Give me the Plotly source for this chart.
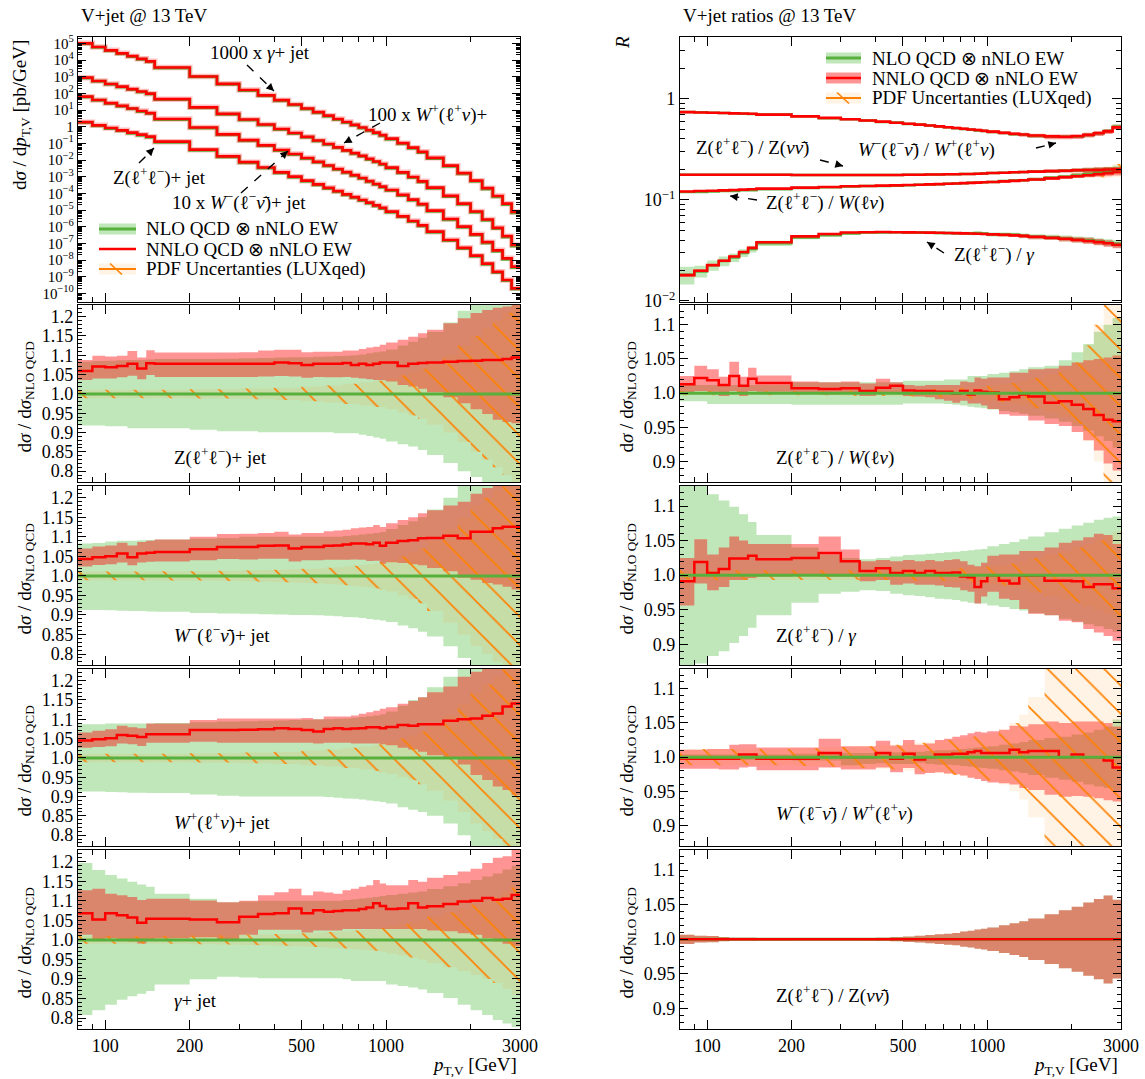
import math
import plotly.graph_objects as go

# ---------------- data ----------------
edges = [80, 90, 100, 110, 120, 130, 140, 150, 200, 250, 300, 350, 400, 450, 500, 550, 600, 650,
         700, 750, 800, 850, 900, 950, 1000, 1100, 1200, 1300, 1400, 1600, 1800, 2000, 2200, 2400,
         2600, 2800, 3000]

# top-left: log10 of NNLO QCD x nNLO EW dsigma/dpT [pb/GeV] (scaled curves)
lg_gamma_x1000 = [5.00, 4.78, 4.58, 4.40, 4.23, 4.07, 3.92, 3.55, 3.01, 2.57, 2.20, 1.88, 1.59, 1.33,
                  1.09, 0.87, 0.66, 0.46, 0.28, 0.11, -0.05, -0.21, -0.36, -0.51, -0.72, -0.99, -1.26,
                  -1.51, -1.87, -2.34, -2.79, -3.24, -3.69, -4.16, -4.62, -5.12]
lg_wp_x100 = [2.94, 2.74, 2.56, 2.40, 2.25, 2.11, 1.98, 1.65, 1.16, 0.77, 0.43, 0.13, -0.14, -0.38,
              -0.61, -0.83, -1.04, -1.24, -1.42, -1.59, -1.75, -1.93, -2.09, -2.24, -2.46, -2.74, -3.02,
              -3.28, -3.66, -4.15, -4.62, -5.09, -5.57, -6.07, -6.57, -7.1]
lg_wm_x10 = [1.80, 1.60, 1.41, 1.25, 1.09, 0.94, 0.81, 0.46, -0.05, -0.46, -0.81, -1.12, -1.40, -1.64,
             -1.88, -2.11, -2.33, -2.54, -2.73, -2.91, -3.08, -3.27, -3.44, -3.60, -3.80, -4.09, -4.38,
             -4.65, -5.04, -5.54, -6.0, -6.46, -6.93, -7.42, -7.9, -8.4]
lg_z = [0.27, 0.08, -0.08, -0.22, -0.36, -0.48, -0.6, -0.9, -1.38, -1.78, -2.13, -2.45, -2.74, -3.0,
        -3.24, -3.46, -3.67, -3.87, -4.06, -4.23, -4.40, -4.56, -4.72, -4.87, -5.1, -5.38, -5.66, -5.92,
        -6.3, -6.8, -7.27, -7.74, -8.22, -8.71, -9.2, -9.7]

# Z(ll)+jet ratio panel
z_nnlo = [1.059, 1.071, 1.069, 1.072, 1.078, 1.066, 1.079, 1.078, 1.078, 1.078, 1.078, 1.078, 1.081, 1.079,
          1.075, 1.078, 1.078, 1.078, 1.08, 1.075, 1.078, 1.075, 1.078, 1.081, 1.081, 1.072, 1.078, 1.08,
          1.081, 1.083, 1.085, 1.086, 1.088, 1.088, 1.09, 1.094]
z_nnlo_hi = [1.088, 1.099, 1.097, 1.099, 1.111, 1.094, 1.113, 1.107, 1.107, 1.107, 1.108, 1.112, 1.114, 1.114,
             1.108, 1.109, 1.109, 1.109, 1.112, 1.112, 1.116, 1.12, 1.122, 1.127, 1.133, 1.14, 1.148, 1.157,
             1.166, 1.183, 1.196, 1.209, 1.217, 1.223, 1.226, 1.232]
z_nnlo_lo = [1.036, 1.04, 1.04, 1.043, 1.047, 1.038, 1.049, 1.044, 1.044, 1.044, 1.044, 1.045, 1.046, 1.045,
             1.042, 1.044, 1.043, 1.043, 1.044, 1.042, 1.04, 1.038, 1.036, 1.035, 1.032, 1.023, 1.019, 1.013,
             1.004, 0.991, 0.976, 0.96, 0.948, 0.933, 0.927, 0.924]
z_nlo_hi = [1.083, 1.085, 1.086, 1.087, 1.088, 1.088, 1.089, 1.09, 1.09, 1.091, 1.092, 1.093, 1.094, 1.095,
            1.095, 1.096, 1.097, 1.098, 1.099, 1.1, 1.102, 1.105, 1.108, 1.11, 1.115, 1.125, 1.135, 1.145,
            1.16, 1.185, 1.215, 1.24, 1.26, 1.28, 1.3, 1.32]
z_nlo_lo = [0.918, 0.918, 0.916, 0.916, 0.911, 0.911, 0.911, 0.911, 0.907, 0.903, 0.903, 0.901, 0.901, 0.901,
            0.901, 0.901, 0.901, 0.898, 0.898, 0.898, 0.894, 0.891, 0.887, 0.884, 0.877, 0.87, 0.864, 0.855,
            0.842, 0.821, 0.8, 0.785, 0.77, 0.755, 0.74, 0.72]
z_pdf = [0.011, 0.011, 0.011, 0.011, 0.011, 0.011, 0.011, 0.011, 0.012, 0.012, 0.014, 0.014, 0.016, 0.016,
         0.019, 0.019, 0.022, 0.022, 0.026, 0.026, 0.03, 0.03, 0.034, 0.034, 0.04, 0.048, 0.056, 0.065,
         0.08, 0.1, 0.125, 0.15, 0.17, 0.19, 0.21, 0.23]

# W-(l- nubar)+jet ratio panel
wm_nnlo = [1.043, 1.048, 1.05, 1.057, 1.048, 1.057, 1.059, 1.061, 1.068, 1.074, 1.074, 1.077, 1.078, 1.07,
           1.074, 1.074, 1.077, 1.078, 1.08, 1.083, 1.083, 1.081, 1.085, 1.077, 1.085, 1.089, 1.091, 1.096,
           1.097, 1.103, 1.096, 1.113, 1.113, 1.122, 1.126, 1.126]
wm_nnlo_hi = [1.07, 1.075, 1.078, 1.085, 1.078, 1.087, 1.09, 1.093, 1.1, 1.107, 1.108, 1.11, 1.113, 1.106,
              1.11, 1.11, 1.114, 1.116, 1.118, 1.122, 1.124, 1.125, 1.13, 1.125, 1.135, 1.143, 1.15, 1.16,
              1.168, 1.18, 1.19, 1.21, 1.225, 1.24, 1.25, 1.26]
wm_nnlo_lo = [1.024, 1.028, 1.03, 1.034, 1.027, 1.034, 1.036, 1.037, 1.04, 1.043, 1.042, 1.044, 1.044, 1.037,
              1.04, 1.04, 1.041, 1.041, 1.041, 1.042, 1.041, 1.038, 1.039, 1.031, 1.035, 1.033, 1.03, 1.027,
              1.02, 1.012, 0.995, 0.99, 0.982, 0.978, 0.972, 0.965]
wm_nlo_hi = [1.083, 1.084, 1.088, 1.09, 1.09, 1.091, 1.092, 1.093, 1.095, 1.097, 1.1, 1.1, 1.1, 1.1,
             1.1, 1.1, 1.1, 1.1, 1.102, 1.104, 1.106, 1.108, 1.11, 1.112, 1.12, 1.13, 1.14, 1.15,
             1.17, 1.2, 1.23, 1.26, 1.28, 1.3, 1.32, 1.34]
wm_nlo_lo = [0.913, 0.913, 0.912, 0.911, 0.91, 0.91, 0.909, 0.908, 0.905, 0.904, 0.903, 0.902, 0.901, 0.9,
             0.9, 0.899, 0.898, 0.897, 0.895, 0.894, 0.892, 0.89, 0.888, 0.886, 0.882, 0.873, 0.866, 0.857,
             0.845, 0.82, 0.79, 0.76, 0.74, 0.72, 0.7, 0.68]
wm_pdf = [0.011, 0.011, 0.011, 0.011, 0.011, 0.011, 0.011, 0.012, 0.012, 0.013, 0.014, 0.015, 0.016, 0.017,
          0.018, 0.019, 0.021, 0.022, 0.024, 0.026, 0.028, 0.03, 0.032, 0.035, 0.04, 0.05, 0.06, 0.07,
          0.09, 0.12, 0.15, 0.18, 0.2, 0.22, 0.24, 0.26]

# W+(l+ nu)+jet ratio panel
wp_nnlo = [1.045, 1.048, 1.051, 1.059, 1.057, 1.054, 1.061, 1.061, 1.072, 1.072, 1.073, 1.074, 1.077, 1.075,
           1.072, 1.068, 1.075, 1.077, 1.075, 1.076, 1.077, 1.079, 1.079, 1.077, 1.08, 1.085, 1.083, 1.087,
           1.087, 1.096, 1.1, 1.102, 1.109, 1.115, 1.133, 1.141]
wp_nnlo_hi = [1.066, 1.07, 1.074, 1.083, 1.079, 1.077, 1.089, 1.089, 1.098, 1.102, 1.102, 1.102, 1.102, 1.102,
              1.103, 1.1, 1.107, 1.107, 1.107, 1.11, 1.114, 1.118, 1.122, 1.127, 1.131, 1.14, 1.147, 1.157,
              1.17, 1.185, 1.21, 1.223, 1.24, 1.25, 1.26, 1.27]
wp_nnlo_lo = [1.026, 1.028, 1.03, 1.037, 1.035, 1.031, 1.039, 1.039, 1.042, 1.039, 1.039, 1.039, 1.039, 1.039,
              1.039, 1.037, 1.039, 1.039, 1.039, 1.037, 1.037, 1.037, 1.037, 1.035, 1.033, 1.026, 1.022, 1.016,
              1.007, 1.0, 0.983, 0.956, 0.943, 0.926, 0.917, 0.904]
wp_nlo_hi = [1.087, 1.087, 1.089, 1.089, 1.089, 1.089, 1.089, 1.09, 1.092, 1.094, 1.095, 1.096, 1.097, 1.098,
             1.099, 1.1, 1.1, 1.101, 1.102, 1.104, 1.106, 1.108, 1.11, 1.113, 1.12, 1.135, 1.15, 1.157,
             1.183, 1.21, 1.24, 1.27, 1.29, 1.31, 1.33, 1.35]
wp_nlo_lo = [0.913, 0.913, 0.912, 0.911, 0.91, 0.91, 0.909, 0.909, 0.905, 0.902, 0.9, 0.9, 0.9, 0.9,
             0.9, 0.9, 0.899, 0.897, 0.895, 0.894, 0.892, 0.89, 0.888, 0.886, 0.882, 0.872, 0.866, 0.86,
             0.85, 0.83, 0.8, 0.77, 0.75, 0.73, 0.71, 0.69]
wp_pdf = [0.011, 0.011, 0.011, 0.011, 0.011, 0.011, 0.011, 0.011, 0.012, 0.012, 0.014, 0.014, 0.016, 0.016,
          0.019, 0.019, 0.022, 0.022, 0.026, 0.026, 0.03, 0.03, 0.034, 0.037, 0.042, 0.05, 0.058, 0.068,
          0.085, 0.11, 0.14, 0.17, 0.19, 0.21, 0.23, 0.25]

# gamma+jet ratio panel
g_nnlo = [1.068, 1.052, 1.068, 1.063, 1.057, 1.044, 1.054, 1.054, 1.052, 1.045, 1.059, 1.066, 1.068, 1.08,
          1.068, 1.076, 1.072, 1.074, 1.076, 1.076, 1.079, 1.083, 1.094, 1.087, 1.079, 1.08, 1.094, 1.083,
          1.086, 1.092, 1.098, 1.1, 1.107, 1.103, 1.105, 1.115]
g_nnlo_hi = [1.127, 1.131, 1.118, 1.114, 1.11, 1.102, 1.105, 1.105, 1.101, 1.096, 1.1, 1.114, 1.122, 1.131,
             1.114, 1.124, 1.121, 1.118, 1.127, 1.131, 1.136, 1.14, 1.153, 1.144, 1.14, 1.14, 1.153, 1.149,
             1.159, 1.166, 1.175, 1.182, 1.197, 1.21, 1.214, 1.232]
g_nnlo_lo = [1.013, 1.0, 1.004, 1.0, 0.996, 0.991, 1.002, 1.004, 1.007, 1.002, 1.013, 1.026, 1.026, 1.026,
             1.019, 1.024, 1.024, 1.024, 1.028, 1.028, 1.028, 1.028, 1.028, 1.028, 1.028, 1.028, 1.028, 1.028,
             1.024, 1.022, 1.017, 1.013, 1.004, 0.996, 0.99, 0.984]
g_nlo_hi = [1.197, 1.179, 1.166, 1.157, 1.149, 1.142, 1.136, 1.118, 1.105, 1.096, 1.098, 1.1, 1.1, 1.1,
            1.1, 1.1, 1.1, 1.1, 1.102, 1.104, 1.106, 1.108, 1.11, 1.112, 1.115, 1.118, 1.121, 1.124,
            1.13, 1.137, 1.145, 1.153, 1.162, 1.17, 1.18, 1.19]
g_nlo_lo = [0.808, 0.82, 0.834, 0.847, 0.856, 0.862, 0.869, 0.886, 0.899, 0.906, 0.904, 0.902, 0.902, 0.902,
            0.902, 0.902, 0.902, 0.902, 0.899, 0.895, 0.895, 0.895, 0.895, 0.895, 0.886, 0.882, 0.878, 0.873,
            0.864, 0.851, 0.834, 0.82, 0.808, 0.795, 0.786, 0.777]
g_pdf = [0.01, 0.01, 0.01, 0.01, 0.01, 0.01, 0.01, 0.01, 0.011, 0.012, 0.013, 0.014, 0.015, 0.016,
         0.017, 0.018, 0.02, 0.021, 0.022, 0.024, 0.025, 0.027, 0.028, 0.03, 0.035, 0.04, 0.045, 0.05,
         0.06, 0.07, 0.08, 0.09, 0.1, 0.11, 0.125, 0.14]

# top-right: NNLO ratios R
R_wm_wp = [0.735, 0.73, 0.725, 0.72, 0.715, 0.712, 0.708, 0.695, 0.668, 0.645, 0.625, 0.608, 0.592, 0.578,
           0.565, 0.553, 0.542, 0.532, 0.522, 0.513, 0.504, 0.496, 0.489, 0.482, 0.472, 0.46, 0.45, 0.442,
           0.432, 0.424, 0.42, 0.425, 0.438, 0.455, 0.475, 0.52]
R_z_znn = [0.177, 0.177, 0.177, 0.177, 0.177, 0.177, 0.177, 0.177, 0.176, 0.176, 0.176, 0.176, 0.176, 0.176,
           0.177, 0.177, 0.178, 0.178, 0.179, 0.179, 0.18, 0.18, 0.181, 0.182, 0.184, 0.185, 0.187, 0.188,
           0.19, 0.192, 0.194, 0.196, 0.197, 0.198, 0.199, 0.2]
R_z_w = [0.121, 0.122, 0.123, 0.124, 0.125, 0.126, 0.127, 0.129, 0.132, 0.134, 0.136, 0.137, 0.138, 0.139,
         0.14, 0.141, 0.142, 0.143, 0.144, 0.145, 0.146, 0.147, 0.148, 0.149, 0.15, 0.152, 0.154, 0.156,
         0.159, 0.163, 0.167, 0.171, 0.175, 0.179, 0.183, 0.188]
R_z_g = [0.018, 0.0199, 0.0226, 0.025, 0.0275, 0.0305, 0.0335, 0.038, 0.0435, 0.046, 0.0475, 0.0478, 0.048,
         0.0478, 0.0477, 0.0476, 0.0474, 0.0472, 0.047, 0.0468, 0.0466, 0.0464, 0.0462, 0.046, 0.0455, 0.045,
         0.0445, 0.044, 0.0432, 0.0422, 0.0412, 0.0402, 0.0392, 0.0382, 0.0372, 0.036]

# Z/W ratio panel
zw_nnlo = [1.013, 1.022, 1.019, 1.012, 1.025, 1.011, 1.021, 1.015, 1.007, 1.006, 1.007, 1.003, 1.008, 1.011,
           1.004, 1.003, 1.003, 1.002, 1.002, 0.999, 1.003, 0.998, 1.004, 1.002, 1.001, 0.991, 0.994, 0.998,
           0.995, 0.986, 0.988, 0.983, 0.977, 0.968, 0.961, 0.959]
zw_nnlo_hi = [1.025, 1.04, 1.035, 1.024, 1.046, 1.024, 1.037, 1.026, 1.017, 1.016, 1.017, 1.014, 1.021, 1.016,
              1.012, 1.011, 1.012, 1.012, 1.012, 1.012, 1.017, 1.016, 1.023, 1.021, 1.023, 1.023, 1.03, 1.03,
              1.035, 1.036, 1.04, 1.045, 1.048, 1.05, 1.052, 1.055]
zw_nnlo_lo = [0.999, 1.003, 1.002, 0.996, 1.003, 0.996, 1.003, 1.002, 0.999, 0.998, 0.999, 0.996, 0.999, 0.999,
              0.996, 0.995, 0.994, 0.991, 0.989, 0.986, 0.989, 0.985, 0.985, 0.982, 0.977, 0.969, 0.967, 0.967,
              0.96, 0.955, 0.952, 0.943, 0.931, 0.916, 0.897, 0.887]
zw_nlo_hi = [1.012, 1.012, 1.012, 1.012, 1.012, 1.012, 1.012, 1.012, 1.016, 1.016, 1.016, 1.016, 1.016, 1.016,
             1.018, 1.018, 1.018, 1.018, 1.02, 1.02, 1.02, 1.025, 1.025, 1.025, 1.028, 1.03, 1.032, 1.035,
             1.038, 1.04, 1.048, 1.06, 1.072, 1.09, 1.1, 1.11]
zw_nlo_lo = [0.988, 0.988, 0.984, 0.984, 0.984, 0.984, 0.984, 0.984, 0.983, 0.983, 0.983, 0.983, 0.983, 0.983,
             0.985, 0.985, 0.985, 0.985, 0.984, 0.983, 0.982, 0.98, 0.979, 0.978, 0.976, 0.974, 0.972, 0.97,
             0.967, 0.963, 0.958, 0.952, 0.945, 0.937, 0.93, 0.92]
zw_pdf = [0.003, 0.003, 0.003, 0.003, 0.003, 0.003, 0.003, 0.003, 0.003, 0.003, 0.004, 0.004, 0.004, 0.005,
          0.005, 0.005, 0.006, 0.006, 0.007, 0.007, 0.008, 0.008, 0.009, 0.01, 0.011, 0.013, 0.015, 0.018,
          0.022, 0.028, 0.035, 0.045, 0.07, 0.1, 0.13, 0.15]

# Z/gamma ratio panel
zg_nnlo = [0.991, 1.019, 1.003, 1.009, 1.024, 1.024, 1.028, 1.023, 1.025, 1.032, 1.02, 1.006, 1.01, 1.003,
           1.006, 1.003, 1.006, 1.003, 1.003, 1.004, 0.998, 0.997, 0.983, 0.991, 1.0, 0.992, 0.988, 0.999,
           0.999, 0.992, 0.992, 0.991, 0.983, 0.987, 0.987, 0.981]
zg_nnlo_hi = [1.025, 1.052, 1.03, 1.04, 1.056, 1.05, 1.045, 1.045, 1.045, 1.056, 1.037, 1.02, 1.022, 1.02,
              1.022, 1.02, 1.022, 1.02, 1.022, 1.023, 1.02, 1.015, 1.013, 1.018, 1.028, 1.03, 1.03, 1.035,
              1.035, 1.04, 1.047, 1.05, 1.055, 1.06, 1.058, 1.045]
zg_nnlo_lo = [0.956, 0.988, 0.978, 0.983, 0.993, 0.993, 0.996, 0.998, 1.0, 0.998, 0.998, 0.991, 0.993, 0.986,
              0.988, 0.986, 0.986, 0.985, 0.983, 0.982, 0.978, 0.976, 0.959, 0.969, 0.976, 0.966, 0.964, 0.951,
              0.944, 0.942, 0.934, 0.932, 0.922, 0.917, 0.912, 0.905]
zg_nlo_hi = [1.2, 1.14, 1.117, 1.108, 1.099, 1.088, 1.077, 1.058, 1.04, 1.03, 1.025, 1.023, 1.025, 1.027,
             1.029, 1.03, 1.031, 1.032, 1.033, 1.034, 1.035, 1.036, 1.037, 1.038, 1.042, 1.045, 1.048, 1.052,
             1.056, 1.062, 1.067, 1.072, 1.076, 1.08, 1.083, 1.085]
zg_nlo_lo = [0.8, 0.872, 0.883, 0.89, 0.902, 0.912, 0.924, 0.942, 0.96, 0.973, 0.976, 0.978, 0.977, 0.973,
             0.971, 0.97, 0.968, 0.966, 0.965, 0.964, 0.962, 0.96, 0.959, 0.959, 0.956, 0.954, 0.951, 0.949,
             0.945, 0.942, 0.937, 0.933, 0.929, 0.926, 0.922, 0.918]
zg_pdf = [0.007, 0.007, 0.007, 0.007, 0.007, 0.007, 0.007, 0.007, 0.007, 0.007, 0.007, 0.007, 0.007, 0.008,
          0.008, 0.008, 0.008, 0.009, 0.009, 0.01, 0.01, 0.011, 0.011, 0.012, 0.013, 0.015, 0.017, 0.02,
          0.025, 0.03, 0.035, 0.04, 0.045, 0.05, 0.056, 0.063]

# W-/W+ ratio panel
wr_nnlo = [0.9975, 0.9975, 0.9975, 0.9975, 0.9975, 1.004, 1.004, 0.9975, 0.9975, 1.006, 1.0, 1.0, 1.006, 0.9975,
           1.005, 0.9966, 1.0, 1.004, 1.004, 1.005, 1.005, 1.007, 1.009, 1.006, 1.006, 1.006, 1.011, 1.007,
           1.009, 1.009, 1.0, 1.004, 1.0, 1.0, 0.995, 0.985]
wr_nnlo_hi = [1.011, 1.011, 1.012, 1.012, 1.018, 1.019, 1.019, 1.014, 1.014, 1.027, 1.016, 1.016, 1.024, 1.017,
              1.025, 1.018, 1.02, 1.025, 1.027, 1.03, 1.032, 1.035, 1.037, 1.036, 1.038, 1.04, 1.046, 1.045,
              1.048, 1.052, 1.05, 1.052, 1.052, 1.052, 1.05, 1.045]
wr_nnlo_lo = [0.983, 0.983, 0.983, 0.982, 0.982, 0.985, 0.986, 0.981, 0.981, 0.985, 0.982, 0.982, 0.985, 0.978,
              0.984, 0.975, 0.977, 0.978, 0.976, 0.975, 0.973, 0.97, 0.968, 0.965, 0.963, 0.962, 0.96, 0.955,
              0.952, 0.945, 0.942, 0.943, 0.942, 0.94, 0.937, 0.935]
wr_nlo_hi = [1.004, 1.004, 1.004, 1.004, 1.004, 1.004, 1.004, 1.004, 1.005, 1.005, 1.006, 1.006, 1.007, 1.007,
             1.008, 1.008, 1.009, 1.01, 1.01, 1.011, 1.012, 1.013, 1.014, 1.015, 1.016, 1.018, 1.02, 1.022,
             1.025, 1.028, 1.03, 1.033, 1.036, 1.04, 1.045, 1.055]
wr_nlo_lo = [0.996, 0.996, 0.996, 0.996, 0.996, 0.996, 0.996, 0.996, 0.995, 0.995, 0.988, 0.99, 0.991, 0.99,
             0.99, 0.992, 0.99, 0.989, 0.989, 0.988, 0.987, 0.986, 0.985, 0.984, 0.983, 0.981, 0.979, 0.977,
             0.974, 0.97, 0.967, 0.964, 0.96, 0.957, 0.955, 0.95]
wr_pdf = [0.012, 0.012, 0.012, 0.012, 0.012, 0.012, 0.012, 0.012, 0.013, 0.014, 0.015, 0.016, 0.017, 0.018,
          0.02, 0.021, 0.022, 0.023, 0.025, 0.026, 0.028, 0.03, 0.031, 0.033, 0.034, 0.04, 0.05, 0.062,
          0.088, 0.13, 0.18, 0.25, 0.25, 0.25, 0.25, 0.25]

# Z(ll)/Z(nunu) ratio panel
zn_nnlo = [1.0, 1.0, 1.0, 1.0, 1.0, 1.0, 1.0, 1.0, 1.0, 1.0, 1.0, 1.0, 1.0, 1.0, 1.0, 1.0, 1.0, 1.0,
           1.0, 1.0, 1.0, 1.0, 1.0, 1.0, 1.0, 1.0, 1.0, 1.0, 1.0, 1.0, 1.0, 1.0, 1.0, 1.0, 1.0, 1.0]
zn_nnlo_hi = [1.0065, 1.005, 1.0045, 1.003, 1.002, 1.002, 1.002, 1.0015, 1.001, 1.001, 1.001, 1.0015, 1.002,
              1.003, 1.004, 1.005, 1.006, 1.007, 1.008, 1.009, 1.011, 1.012, 1.014, 1.015, 1.017, 1.02, 1.023,
              1.026, 1.03, 1.036, 1.042, 1.047, 1.053, 1.058, 1.063, 1.057]
zn_nnlo_lo = [0.993, 0.995, 0.9955, 0.997, 0.998, 0.998, 0.998, 0.9985, 0.999, 0.999, 0.999, 0.9985, 0.998,
              0.997, 0.996, 0.995, 0.994, 0.993, 0.992, 0.991, 0.989, 0.988, 0.986, 0.985, 0.983, 0.98, 0.977,
              0.974, 0.97, 0.964, 0.958, 0.953, 0.947, 0.942, 0.936, 0.943]
zn_nlo_hi = zn_nnlo_hi
zn_nlo_lo = zn_nnlo_lo

x_tick_vals = [100, 200, 500, 1000, 3000]
x_tick_text = ["100", "200", "500", "1000", "3000"]

# ---------------- style ----------------
W, H = 1145, 1079
FONT = "Liberation Serif"
GREEN_BAND = "rgba(60,180,40,0.32)"
RED_BAND = "rgba(255,0,0,0.42)"
GREEN_LINE = "#58b03c"
RED_LINE = "#ff0000"
ORANGE = "#ff8000"
PDF_BG = "rgba(255,140,0,0.10)"
PATTERN = dict(shape="\\", fgcolor=ORANGE, fgopacity=1, bgcolor=PDF_BG, size=20, solidity=0.08)

COLS = [(78, 520), (680, 1121)]
ROWS = [(37, 302), (305, 482), (486, 665), (669, 846), (850, 1029)]


def PX(x):
    return x / W


def PY(y):
    return 1 - y / H


def an(n, kind):
    return kind if n == 1 else f"{kind}{n}"


def step(v):
    return list(v) + [v[-1]]


fig = go.Figure()


def band(n, lo, hi, color, pattern=None):
    xa, ya = an(n, "x"), an(n, "y")
    fig.add_trace(go.Scatter(x=edges, y=step(lo), xaxis=xa, yaxis=ya, mode="lines",
                             line=dict(width=0, shape="hv"), hoverinfo="skip", showlegend=False))
    kw = dict(fill="tonexty", fillcolor=color)
    if pattern is not None:
        kw["fillpattern"] = pattern
    fig.add_trace(go.Scatter(x=edges, y=step(hi), xaxis=xa, yaxis=ya, mode="lines",
                             line=dict(width=0, shape="hv"), hoverinfo="skip", showlegend=False, **kw))


def line(n, vals, color, width):
    fig.add_trace(go.Scatter(x=edges, y=step(vals), xaxis=an(n, "x"), yaxis=an(n, "y"), mode="lines",
                             line=dict(color=color, width=width, shape="hv"), hoverinfo="skip",
                             showlegend=False))


def ratio_panel(n, nnlo, nnlo_lo, nnlo_hi, nlo_lo, nlo_hi, pdf, red_on_top=True):
    band(n, nlo_lo, nlo_hi, GREEN_BAND)
    band(n, nnlo_lo, nnlo_hi, RED_BAND)
    if pdf is not None:
        band(n, [1 - w for w in pdf], [1 + w for w in pdf], PDF_BG, PATTERN)
    ones = [1.0 for _ in nnlo]
    if red_on_top:
        line(n, ones, GREEN_LINE, 3)
        line(n, nnlo, RED_LINE, 2.5)
    else:
        line(n, nnlo, RED_LINE, 2.5)
        line(n, ones, GREEN_LINE, 3)


# ---- top-left cross sections ----
for lg, k in [(lg_gamma_x1000, g_nnlo), (lg_wp_x100, wp_nnlo), (lg_wm_x10, wm_nnlo), (lg_z, z_nnlo)]:
    nnlo_vals = [10 ** v for v in lg]
    nlo_vals = [a / r for a, r in zip(nnlo_vals, k)]
    line(1, nnlo_vals, "rgba(255,0,0,0.25)", 5.5)
    line(1, nlo_vals, GREEN_LINE, 3)
    line(1, nnlo_vals, RED_LINE, 2.6)

# ---- left ratio panels ----
ratio_panel(2, z_nnlo, z_nnlo_lo, z_nnlo_hi, z_nlo_lo, z_nlo_hi, z_pdf)
ratio_panel(3, wm_nnlo, wm_nnlo_lo, wm_nnlo_hi, wm_nlo_lo, wm_nlo_hi, wm_pdf)
ratio_panel(4, wp_nnlo, wp_nnlo_lo, wp_nnlo_hi, wp_nlo_lo, wp_nlo_hi, wp_pdf)
ratio_panel(5, g_nnlo, g_nnlo_lo, g_nnlo_hi, g_nlo_lo, g_nlo_hi, g_pdf)

# ---- top-right ratios ----
top_right = [
    (R_z_g, zg_nnlo, zg_nnlo_lo, zg_nnlo_hi, zg_nlo_lo, zg_nlo_hi, None),
    (R_z_w, zw_nnlo, zw_nnlo_lo, zw_nnlo_hi, zw_nlo_lo, zw_nlo_hi, zw_pdf),
    (R_z_znn, zn_nnlo, zn_nnlo_lo, zn_nnlo_hi, zn_nlo_lo, zn_nlo_hi, None),
    (R_wm_wp, wr_nnlo, wr_nnlo_lo, wr_nnlo_hi, wr_nlo_lo, wr_nlo_hi, None),
]
for R, k, klo, khi, glo, ghi, pdf in top_right:
    nlo_c = [a / b for a, b in zip(R, k)]
    band(6, [c * g for c, g in zip(nlo_c, glo)], [c * g for c, g in zip(nlo_c, ghi)], GREEN_BAND)
    band(6, [c * g for c, g in zip(nlo_c, klo)], [c * g for c, g in zip(nlo_c, khi)], RED_BAND)
    if pdf is not None:
        band(6, [c * (1 - w) for c, w in zip(nlo_c, pdf)], [c * (1 + w) for c, w in zip(nlo_c, pdf)],
             PDF_BG, PATTERN)
    line(6, nlo_c, GREEN_LINE, 2.5)
    line(6, R, RED_LINE, 2.6)

# ---- right ratio panels ----
ratio_panel(7, zw_nnlo, zw_nnlo_lo, zw_nnlo_hi, zw_nlo_lo, zw_nlo_hi, zw_pdf, red_on_top=False)
ratio_panel(8, zg_nnlo, zg_nnlo_lo, zg_nnlo_hi, zg_nlo_lo, zg_nlo_hi, zg_pdf, red_on_top=False)
ratio_panel(9, wr_nnlo, wr_nnlo_lo, wr_nnlo_hi, wr_nlo_lo, wr_nlo_hi, wr_pdf, red_on_top=False)
ratio_panel(10, zn_nnlo, zn_nnlo_lo, zn_nnlo_hi, zn_nlo_lo, zn_nlo_hi, None, red_on_top=True)

# ---------------- axes ----------------
layout = dict(width=W, height=H, margin=dict(l=0, r=0, t=0, b=0), paper_bgcolor="white",
              plot_bgcolor="white", showlegend=False, font=dict(family=FONT, size=18, color="black"))

tickfont = dict(family=FONT, size=18, color="black")
common = dict(ticks="inside", tickcolor="black", tickwidth=1, mirror="allticks", showline=True,
              linecolor="black", linewidth=1.3, showgrid=False, zeroline=False, automargin=False,
              tickfont=tickfont)

sup_minus = "\u2212"
decade_vals = [10.0 ** e for e in range(-10, 6)]
decade_text = ["1" if e == 0 else f"10<sup>{e if e > 0 else sup_minus + str(-e)}</sup>"
               for e in range(-10, 6)]
decade_minor = [m * 10.0 ** e for e in range(-11, 6) for m in range(2, 10)]
r_vals = [0.01, 0.1, 1.0]
r_text = [f"10<sup>{sup_minus}2</sup>", f"10<sup>{sup_minus}1</sup>", "1"]
r_minor = [m * 10.0 ** e for e in range(-3, 1) for m in range(2, 10)]

left_ratio_vals = [0.8, 0.85, 0.9, 0.95, 1.0, 1.05, 1.1, 1.15, 1.2]
left_ratio_text = ["0.8", "0.85", "0.9", "0.95", "1.0", "1.05", "1.1", "1.15", "1.2"]
right_ratio_vals = [0.9, 0.95, 1.0, 1.05, 1.1]
right_ratio_text = ["0.9", "0.95", "1.0", "1.05", "1.1"]
left_minor = [round(0.77 + 0.01 * i, 2) for i in range(47)]
right_minor = [round(0.87 + 0.01 * i, 2) for i in range(27)]

for i in range(10):
    n = i + 1
    col, row = divmod(i, 5)
    x0, x1 = COLS[col]
    t, b = ROWS[row]
    xa = dict(common, domain=[PX(x0), PX(x1)], anchor=an(n, "y"), type="log",
              range=[math.log10(80), math.log10(3000)], tickmode="array", tickvals=x_tick_vals,
              ticktext=x_tick_text, ticklen=9, showticklabels=(row == 4),
              minor=dict(tickmode="array", tickvals=[90, 300, 400, 600, 700, 800, 900, 2000],
                         ticks="inside", ticklen=5, tickcolor="black", showgrid=False))
    ya = dict(common, domain=[PY(b), PY(t)], anchor=an(n, "x"))
    if row == 0 and col == 0:
        ya.update(type="log", range=[-10.52, 5.38], tickmode="array", tickvals=decade_vals,
                  ticktext=decade_text, ticklen=8, tickfont=dict(family=FONT, size=15, color="black"),
                  minor=dict(tickmode="array", tickvals=decade_minor, ticks="inside", ticklen=4,
                             tickcolor="black", showgrid=False))
    elif row == 0:
        ya.update(type="log", range=[-2.01, 0.609], tickmode="array", tickvals=r_vals, ticktext=r_text,
                  ticklen=9, minor=dict(tickmode="array", tickvals=r_minor, ticks="inside", ticklen=5,
                                        tickcolor="black", showgrid=False))
    elif col == 0:
        ya.update(range=[0.772, 1.230], tickmode="array", tickvals=left_ratio_vals,
                  ticktext=left_ratio_text, ticklen=8,
                  minor=dict(tickmode="array", tickvals=left_minor, ticks="inside", ticklen=4,
                             tickcolor="black", showgrid=False))
    else:
        ya.update(range=[0.87, 1.129], tickmode="array", tickvals=right_ratio_vals,
                  ticktext=right_ratio_text, ticklen=8,
                  minor=dict(tickmode="array", tickvals=right_minor, ticks="inside", ticklen=4,
                             tickcolor="black", showgrid=False))
    layout["xaxis" if n == 1 else f"xaxis{n}"] = xa
    layout["yaxis" if n == 1 else f"yaxis{n}"] = ya

# ---------------- text, legends, arrows ----------------
annotations = []
shapes = []


def text(x, y, s, size=19, xanchor="left", angle=0, yanchor="middle"):
    annotations.append(dict(x=PX(x), y=PY(y), xref="paper", yref="paper", text=s, showarrow=False,
                            xanchor=xanchor, yanchor=yanchor, textangle=angle,
                            font=dict(family=FONT, size=size, color="black")))


def arrow(sx, sy, ex, ey):
    shapes.append(dict(type="line", xref="paper", yref="paper", x0=PX(sx), y0=PY(sy), x1=PX(ex), y1=PY(ey),
                       line=dict(color="black", width=1.4, dash="dash")))
    L = math.hypot(sx - ex, sy - ey)
    annotations.append(dict(x=PX(ex), y=PY(ey), xref="paper", yref="paper", text="", showarrow=True,
                            ax=(sx - ex) / L * 7, ay=(sy - ey) / L * 7, arrowhead=2, arrowsize=1.1,
                            arrowwidth=1.4, arrowcolor="black"))


def rect(x0, x1, y0, y1, color):
    shapes.append(dict(type="rect", xref="paper", yref="paper", x0=PX(x0), x1=PX(x1), y0=PY(y1), y1=PY(y0),
                       fillcolor=color, line=dict(width=0)))


def seg(x0, y0, x1, y1, color, width):
    shapes.append(dict(type="line", xref="paper", yref="paper", x0=PX(x0), y0=PY(y0), x1=PX(x1), y1=PY(y1),
                       line=dict(color=color, width=width)))


nu_bar = "<i>\u03bd\u0304</i>"
ell = "\u2113"

# titles
text(79, 16, "V+jet @ 13 TeV", size=19)
text(681, 16, "V+jet ratios @ 13 TeV", size=19)

# axis titles
text(21, 38, "d<i>\u03c3</i> / d<i>p</i><sub>T,V</sub> [pb/GeV]", size=19, xanchor="center", angle=-90,
     yanchor="top")
text(622, 43, "<i>R</i>", size=19, xanchor="center", angle=-90)
for (t, b) in ROWS[1:]:
    yc = (t + b) / 2 + 3
    text(25, yc, "d<i>\u03c3</i> / d<i>\u03c3</i><sub>NLO QCD</sub>", size=19, xanchor="center", angle=-90)
    text(627, yc, "d<i>\u03c3</i> / d<i>\u03c3</i><sub>NLO QCD</sub>", size=19, xanchor="center", angle=-90)
text(519, 1066, "<i>p</i><sub>T,V</sub> [GeV]", size=19, xanchor="right")
text(1120, 1066, "<i>p</i><sub>T,V</sub> [GeV]", size=19, xanchor="right")

# top-left curve labels
text(208, 52, "1000 x <i>\u03b3</i>+ jet")
arrow(247, 65, 274, 91)
text(366, 113, f"100 x <i>W</i><sup>+</sup>({ell}<sup>+</sup><i>\u03bd</i>)+")
arrow(380, 123, 344, 143)
text(111, 177, f"Z({ell}<sup>+</sup>{ell}<sup>\u2212</sup>)+ jet")
arrow(139, 163, 154, 148)
text(170, 202, f"10 x <i>W</i><sup>\u2212</sup>({ell}<sup>\u2212</sup>{nu_bar})+ jet")
arrow(241, 193, 288, 151)

# top-right curve labels
text(694, 146, f"Z({ell}<sup>+</sup>{ell}<sup>\u2212</sup>) / Z(<i>\u03bd</i>{nu_bar})")
arrow(820, 160, 843, 166)
text(856, 149, f"<i>W</i><sup>\u2212</sup>({ell}<sup>\u2212</sup>{nu_bar}) / <i>W</i><sup>+</sup>({ell}<sup>+</sup><i>\u03bd</i>)")
arrow(1036, 148, 1056, 143)
text(764, 201, f"Z({ell}<sup>+</sup>{ell}<sup>\u2212</sup>) / <i>W</i>({ell}<i>\u03bd</i>)")
arrow(757, 200, 730, 196)
text(952, 253, f"Z({ell}<sup>+</sup>{ell}<sup>\u2212</sup>) / <i>\u03b3</i>")
arrow(944, 253, 927, 242)

# panel labels
text(172, 456, f"Z({ell}<sup>+</sup>{ell}<sup>\u2212</sup>)+ jet")
text(172, 634, f"<i>W</i><sup>\u2212</sup>({ell}<sup>\u2212</sup>{nu_bar})+ jet")
text(172, 821, f"<i>W</i><sup>+</sup>({ell}<sup>+</sup><i>\u03bd</i>)+ jet")
text(172, 1000, "<i>\u03b3</i>+ jet")
text(774, 456, f"Z({ell}<sup>+</sup>{ell}<sup>\u2212</sup>) / <i>W</i>({ell}<i>\u03bd</i>)")
text(774, 634, f"Z({ell}<sup>+</sup>{ell}<sup>\u2212</sup>) / <i>\u03b3</i>")
text(774, 812, f"<i>W</i><sup>\u2212</sup>({ell}<sup>\u2212</sup>{nu_bar}) / <i>W</i><sup>+</sup>({ell}<sup>+</sup><i>\u03bd</i>)")
text(774, 994, f"Z({ell}<sup>+</sup>{ell}<sup>\u2212</sup>) / Z(<i>\u03bd</i>{nu_bar})")

# legends
legend_labels = ["NLO QCD \u2297 nNLO EW", "NNLO QCD \u2297 nNLO EW", "PDF Uncertanties (LUXqed)"]


def legend(x0, x1, ys, tx, red_band):
    y1, y2, y3 = ys
    rect(x0, x1, y1 - 5.5, y1 + 5.5, GREEN_BAND)
    seg(x0, y1, x1, y1, GREEN_LINE, 3)
    if red_band:
        rect(x0, x1, y2 - 5.5, y2 + 5.5, RED_BAND)
    seg(x0, y2, x1, y2, RED_LINE, 2.5)
    rect(x0, x1, y3 - 5.5, y3 + 5.5, PDF_BG)
    seg(x0, y3, x1, y3, ORANGE, 2)
    seg(x0 + 11, y3 - 5.5, x0 + 23, y3 + 5.5, ORANGE, 1.5)
    for y, s in zip(ys, legend_labels):
        text(tx, y, s, size=19)


legend(99, 136, (229, 249, 269), 144, False)
legend(826, 861, (58, 78, 98), 870, True)

layout["annotations"] = annotations
layout["shapes"] = shapes
fig.update_layout(**layout)

fig.write_html("out.html", config={"displayModeBar": False},
               post_script="document.body.style.margin='0';document.body.style.overflow='hidden';")
